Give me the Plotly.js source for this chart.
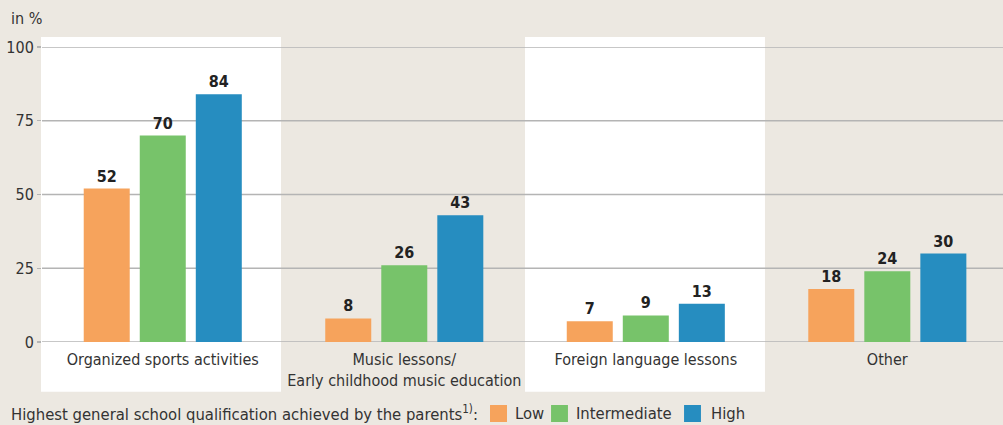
<!DOCTYPE html>
<html>
<head>
<meta charset="utf-8">
<script src="https://cdn.plot.ly/plotly-3.0.1.min.js"></script>
<style>html,body{margin:0;padding:0;background:#ece8e1;}#chart{width:1003px;height:425px;}</style>
</head>
<body>
<div id="chart"></div>
<script>
var categories = ["Organized sports activities", "Music lessons/<br>Early childhood music education", "Foreign language lessons", "Other"];
var seriesNames = ["Low", "Intermediate", "High"];
var lowValues = [52, 8, 7, 18];
var intermediateValues = [70, 26, 9, 24];
var highValues = [84, 43, 13, 30];
var yTicks = [0, 25, 50, 75, 100];
var legendTitle = "Highest general school qualification achieved by the parents<sup>1)</sup>:";
var colors = ["#f6a35c", "#77c36a", "#268dc0"];

var FONT = "DejaVu Sans Condensed, DejaVu Sans, sans-serif";
var TXT = "#333333";
var GRID = "#b4b4b4";
var values = [lowValues, intermediateValues, highValues];
var traces = values.map(function (v, i) {
  return {
    type: "bar",
    name: seriesNames[i],
    x: categories,
    y: v,
    marker: {color: colors[i]},
    text: v.map(String),
    textposition: "outside",
    cliponaxis: false,
    textfont: {family: FONT, size: 16, color: "#222", weight: "bold"},
    hoverinfo: "skip",
    showlegend: false
  };
});

var swatchX = [[0.4662, 0.4839], [0.5297, 0.5473], [0.6681, 0.6857]];
var labelX = [0.4901, 0.5536, 0.6941];
var shapes = [
  {type: "rect", xref: "paper", yref: "paper", x0: -0.00104, x1: 0.2487, y0: -0.169, y1: 1.034, fillcolor: "#ffffff", line: {width: 0}, layer: "below"},
  {type: "rect", xref: "paper", yref: "paper", x0: 0.5026, x1: 0.7523, y0: -0.169, y1: 1.034, fillcolor: "#ffffff", line: {width: 0}, layer: "below"}
];
// horizontal grid lines drawn over the white bands, under the bars
yTicks.forEach(function (t) {
  shapes.push({type: "line", xref: "paper", yref: "y", x0: 0, x1: 1, y0: t, y1: t, line: {color: GRID, width: 1.3}, layer: "below"});
});
var annotations = [
  {text: "in %", xref: "paper", yref: "paper", x: -0.0343, y: 1.098, xanchor: "left", yanchor: "middle", showarrow: false, font: {family: FONT, size: 16, color: TXT}},
  {text: legendTitle, xref: "paper", yref: "paper", x: -0.0343, y: -0.2407, xanchor: "left", yanchor: "middle", showarrow: false, font: {family: FONT, size: 16.5, color: TXT}}
];
seriesNames.forEach(function (name, i) {
  shapes.push({type: "rect", xref: "paper", yref: "paper", x0: swatchX[i][0], x1: swatchX[i][1], y0: -0.2712, y1: -0.2136, fillcolor: colors[i], line: {width: 0}, layer: "above"});
  annotations.push({text: name, xref: "paper", yref: "paper", x: labelX[i], y: -0.2407, xanchor: "left", yanchor: "middle", showarrow: false, font: {family: FONT, size: 16.5, color: TXT}});
});

var layout = {
  width: 1003, height: 425,
  margin: {l: 42, r: 0, t: 47, b: 83, pad: 0, autoexpand: false},
  paper_bgcolor: "#ece8e1",
  plot_bgcolor: "rgba(0,0,0,0)",
  barmode: "group",
  bargap: 0.304,
  bargroupgap: 0.179,
  font: {family: FONT, size: 16, color: TXT},
  xaxis: {
    type: "category",
    range: [-0.5, 3.479],
    showgrid: false, zeroline: false, showline: false,
    ticks: "outside", ticklen: 3, tickcolor: "rgba(0,0,0,0)",
    tickfont: {family: FONT, size: 16, color: TXT},
    fixedrange: true
  },
  yaxis: {
    range: [0, 100],
    tickvals: yTicks,
    ticktext: yTicks.map(String),
    showgrid: false,
    zeroline: false, showline: false,
    ticks: "outside", ticklen: 4, tickcolor: GRID, tickwidth: 1.3,
    tickfont: {family: FONT, size: 16, color: TXT},
    fixedrange: true
  },
  shapes: shapes,
  annotations: annotations,
  showlegend: false
};

Plotly.newPlot("chart", traces, layout, {displayModeBar: false, staticPlot: true});
</script>
</body>
</html>
